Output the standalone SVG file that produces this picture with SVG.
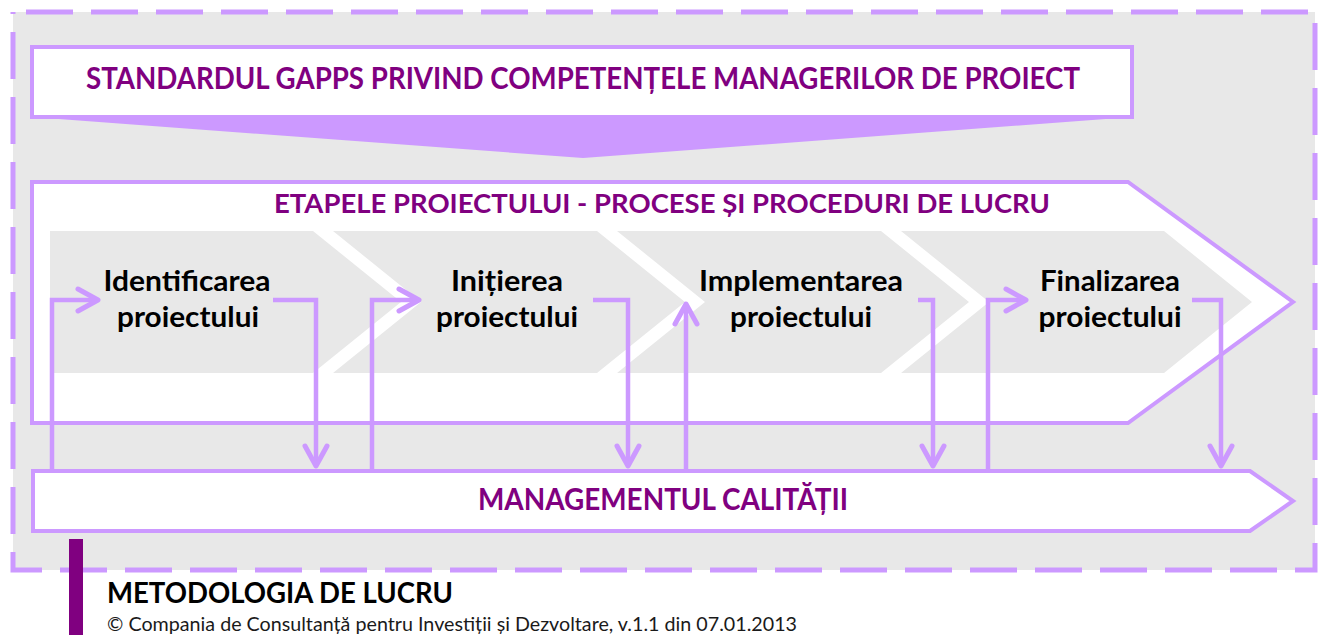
<svg xmlns="http://www.w3.org/2000/svg" width="1322" height="635" viewBox="0 0 1322 635">
<style>
.frame{fill:#e8e8e8;stroke:#cc99ff;stroke-width:5;stroke-dasharray:47 18;stroke-dashoffset:52}
.box{fill:#ffffff;stroke:#cc99ff;stroke-width:4}
.chev{fill:#e8e8e8;stroke:none}
.ttl{font-family:Lato,"Liberation Sans",sans-serif;font-weight:bold;fill:#800080;text-anchor:middle}
.lbl{font-family:Lato,"Liberation Sans",sans-serif;font-weight:bold;fill:#000000;font-size:29px;text-anchor:middle}
.conn{fill:none;stroke:#cc99ff;stroke-width:4.5;stroke-linejoin:miter;stroke-linecap:butt}
</style>
<defs>
<marker id="ah" markerUnits="userSpaceOnUse" viewBox="-26 -16 30 32" refX="0" refY="0" markerWidth="30" markerHeight="32" orient="auto">
<path d="M-20,-11 L0,0 L-20,11" fill="none" stroke="#cc99ff" stroke-width="5" stroke-linecap="round" stroke-linejoin="round"/>
</marker>
</defs>
<rect class="frame" x="13" y="12" width="1302" height="558"/>

<g id="standard">
<polygon points="32,117 1132,117 583,158" fill="#cc99ff"/>
<rect class="box" x="32" y="47" width="1100" height="70"/>
<text class="ttl" x="583" y="89" font-size="31" textLength="994" lengthAdjust="spacingAndGlyphs">STANDARDUL GAPPS PRIVIND COMPETENȚELE MANAGERILOR DE PROIECT</text>
</g>

<g id="etape">
<polygon class="box" points="32,182 1128,182 1293,302 1128,423 32,423" stroke-width="3.5"/>
<text class="ttl" x="662" y="213" font-size="27.5" textLength="776" lengthAdjust="spacingAndGlyphs">ETAPELE PROIECTULUI - PROCESE ȘI PROCEDURI DE LUCRU</text>
</g>

<g id="identificarea">
<polygon class="chev" points="50,231 313,231 401,302 313,373 50,373"/>
<text class="lbl" x="187" y="291" textLength="167" lengthAdjust="spacingAndGlyphs">Identificarea</text>
<text class="lbl" x="188" y="327" textLength="142" lengthAdjust="spacingAndGlyphs">proiectului</text>
</g>

<g id="initierea">
<polygon class="chev" points="333,231 597,231 685,302 597,373 333,373 421,302"/>
<text class="lbl" x="507" y="291" textLength="112" lengthAdjust="spacingAndGlyphs">Inițierea</text>
<text class="lbl" x="507" y="327" textLength="142" lengthAdjust="spacingAndGlyphs">proiectului</text>
</g>

<g id="implementarea">
<polygon class="chev" points="617,231 881,231 969,302 881,373 617,373 705,302"/>
<text class="lbl" x="801" y="291" textLength="204" lengthAdjust="spacingAndGlyphs">Implementarea</text>
<text class="lbl" x="801" y="327" textLength="142" lengthAdjust="spacingAndGlyphs">proiectului</text>
</g>

<g id="finalizarea">
<polygon class="chev" points="901,231 1164,231 1252,302 1164,373 901,373 989,302"/>
<text class="lbl" x="1110" y="291" textLength="140" lengthAdjust="spacingAndGlyphs">Finalizarea</text>
<text class="lbl" x="1110" y="327" textLength="143" lengthAdjust="spacingAndGlyphs">proiectului</text>
</g>

<g id="calitate">
<polygon class="box" points="33,471 1250,471 1293,501 1250,531 33,531" stroke-width="3.5"/>
<text class="ttl" x="663" y="510" font-size="30" textLength="370" lengthAdjust="spacingAndGlyphs">MANAGEMENTUL CALITĂȚII</text>
</g>

<g id="connectors">
<path class="conn" d="M52,471 V300 H98" marker-end="url(#ah)"/>
<path class="conn" d="M273,300 H316 V466" marker-end="url(#ah)"/>
<path class="conn" d="M372,471 V300 H419" marker-end="url(#ah)"/>
<path class="conn" d="M593,300 H628 V466" marker-end="url(#ah)"/>
<path class="conn" d="M686,471 V304" marker-end="url(#ah)"/>
<path class="conn" d="M918,300 H933 V466" marker-end="url(#ah)"/>
<path class="conn" d="M988,471 V300 H1026" marker-end="url(#ah)"/>
<path class="conn" d="M1192,300 H1221 V466" marker-end="url(#ah)"/>
</g>

<g id="footer">
<rect x="69" y="539" width="14" height="96" fill="#800080"/>
<text x="107" y="603" font-family="Lato, 'Liberation Sans', sans-serif" font-weight="bold" font-size="28" fill="#000000" textLength="346" lengthAdjust="spacingAndGlyphs">METODOLOGIA DE LUCRU</text>
<text x="107" y="631" font-family="Lato, 'Liberation Sans', sans-serif" font-size="20" fill="#1a1a1a" textLength="690" lengthAdjust="spacingAndGlyphs">© Compania de Consultanță pentru Investiții și Dezvoltare, v.1.1 din 07.01.2013</text>
</g>
</svg>
